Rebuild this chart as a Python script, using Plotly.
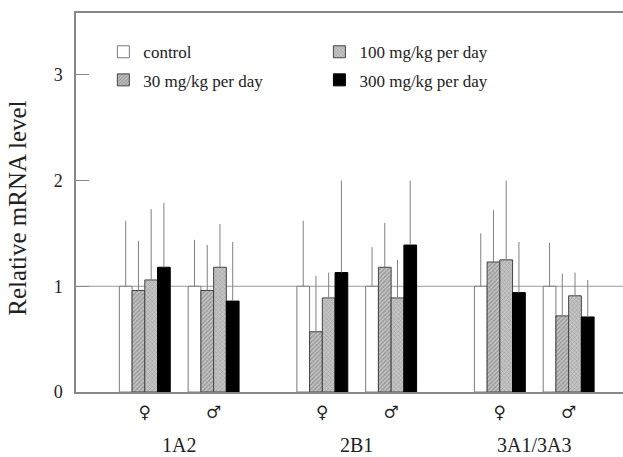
import plotly.graph_objects as go

# ---- data ----
genes = ["1A2", "2B1", "3A1/3A3"]
sexes = ["♀", "♂"]
series_names = ["control", "30 mg/kg per day", "100 mg/kg per day", "300 mg/kg per day"]

# order: 1A2 F, 1A2 M, 2B1 F, 2B1 M, 3A F, 3A M
control_mean = [1.00, 1.00, 1.00, 1.00, 1.00, 1.00]
control_top = [1.62, 1.44, 1.62, 1.37, 1.50, 1.41]
d30_mean = [0.96, 0.96, 0.57, 1.18, 1.23, 0.72]
d30_top = [1.43, 1.39, 1.10, 1.60, 1.72, 1.12]
d100_mean = [1.06, 1.18, 0.89, 0.89, 1.25, 0.91]
d100_top = [1.73, 1.59, 1.13, 1.25, 2.00, 1.13]
d300_mean = [1.18, 0.86, 1.13, 1.39, 0.94, 0.71]
d300_top = [1.79, 1.42, 2.00, 2.00, 1.42, 1.06]

y_ticks = [0, 1, 2, 3]

# ---- layout helpers ----
group_gap = 2.58
xpos = []
for g in range(len(genes)):
    for s in range(len(sexes)):
        xpos.append(g * group_gap + s)
tick_text = [sexes[i % 2] for i in range(len(xpos))]

FONT = "Liberation Serif, Times New Roman, DejaVu Serif, serif"

styles = [
    dict(marker=dict(color="white", line=dict(color="#7a7a7a", width=1)), legend="legend"),
    dict(marker=dict(color="#b8b8b8", line=dict(color="#444", width=1),
                     pattern=dict(shape="/", size=3, fgcolor="#6a6a6a", bgcolor="#c4c4c4", solidity=0.45)),
         legend="legend"),
    dict(marker=dict(color="#b8b8b8", line=dict(color="#444", width=1),
                     pattern=dict(shape="x", size=3, fgcolor="#7e7e7e", bgcolor="#c4c4c4", solidity=0.35)),
         legend="legend2"),
    dict(marker=dict(color="black", line=dict(color="black", width=1)), legend="legend2"),
]
means = [control_mean, d30_mean, d100_mean, d300_mean]
tops = [control_top, d30_top, d100_top, d300_top]

fig = go.Figure()
for i, name in enumerate(series_names):
    err = [t - m for t, m in zip(tops[i], means[i])]
    fig.add_trace(go.Bar(
        x=xpos, y=means[i], name=name,
        marker=styles[i]["marker"],
        legend=styles[i]["legend"],
        legendgroup=name,
        error_y=dict(type="data", array=err, arrayminus=[0] * len(err), symmetric=False,
                     color="#808080", thickness=1, width=0),
    ))

fig.add_shape(type="line", xref="paper", x0=0, x1=1, yref="y", y0=1, y1=1,
              line=dict(color="#9a9a9a", width=1), layer="below")

# group labels
for g, gene in enumerate(genes):
    fig.add_annotation(x=g * group_gap + 0.5, xref="x", y=0, yref="paper", yshift=-53,
                       text=gene, showarrow=False, font=dict(family=FONT, size=20, color="#222"),
                       yanchor="middle")

fig.add_annotation(x=0, xref="paper", xshift=-74, y=0.485, yref="paper",
                   text="Relative mRNA level", textangle=-90, showarrow=False,
                   font=dict(family=FONT, size=25, color="#222"))

fig.update_layout(
    width=623, height=457,
    margin=dict(l=76, r=0, t=13, b=65),
    paper_bgcolor="white", plot_bgcolor="white",
    barmode="group", bargap=0.26, bargroupgap=0,
    font=dict(family=FONT, color="#222"),
    showlegend=True,
    legend=dict(x=0.05, y=0.944, xanchor="left", yanchor="top", bgcolor="rgba(0,0,0,0)",
                font=dict(family=FONT, size=17, color="#222"), tracegroupgap=3),
    legend2=dict(x=0.445, y=0.944, xanchor="left", yanchor="top", bgcolor="rgba(0,0,0,0)",
                 font=dict(family=FONT, size=17, color="#222"), tracegroupgap=3),
    xaxis=dict(range=[-1.0, 6.95], tickmode="array", tickvals=xpos, ticktext=tick_text,
               showline=True, linecolor="#888", linewidth=1.5, mirror=True, ticks="",
               showgrid=False, zeroline=False, ticklabelstandoff=4,
               tickfont=dict(family="DejaVu Serif, serif", size=17, color="#222")),
    yaxis=dict(range=[0, 3.585], tickmode="array", tickvals=y_ticks,
               showline=True, linecolor="#888", linewidth=1.5, ticks="inside", ticklen=13,
               tickcolor="#888", showgrid=False, zeroline=False, ticklabelstandoff=8,
               tickfont=dict(family=FONT, size=18, color="#222")),
)

# remove the default page margin so the 623x457 figure fills the window exactly
fig.write_html(
    "out.html",
    config={"displayModeBar": False},
    post_script="document.body.style.margin='0';document.body.style.overflow='hidden';"
                "document.documentElement.style.overflow='hidden';",
)
